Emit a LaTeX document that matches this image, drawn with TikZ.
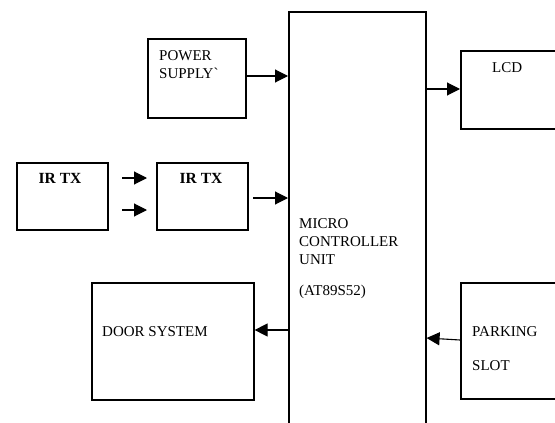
\documentclass[tikz,border=0pt]{standalone}
\usepackage{fontspec}
\setmainfont{Liberation Serif}
\newfontfamily\rawserif{Liberation Serif}
\usetikzlibrary{arrows.meta}
\begin{document}
\begin{tikzpicture}[x=1pt,y=-1pt,
  blk/.style={draw,line width=1.6pt,rectangle,inner sep=0pt,anchor=north west},
  con/.style={line width=1.1pt,-{Triangle[length=13pt,width=13pt]}},
  lbl/.style={anchor=base west,inner sep=0pt,font=\fontsize{15}{17}\selectfont},
  lblb/.style={anchor=base,inner sep=0pt,font=\fontsize{15.5}{17}\bfseries\selectfont}]
\useasboundingbox (0,0) rectangle (555,423);
\clip (0,0) rectangle (555,423);
% boxes
\node[blk,minimum width=137pt,minimum height=440pt] (mcu) at (288,11) {};
\node[blk,minimum width=98pt,minimum height=79pt] (ps) at (147,38) {};
\node[blk,minimum width=120pt,minimum height=78pt] (lcd) at (460,50) {};
\node[blk,minimum width=91pt,minimum height=67pt] (ir1) at (16,162) {};
\node[blk,minimum width=91pt,minimum height=67pt] (ir2) at (156,162) {};
\node[blk,minimum width=162pt,minimum height=117pt] (door) at (91,282) {};
\node[blk,minimum width=120pt,minimum height=116pt] (park) at (460,282) {};
% labels
\node[lbl] (tps1) at (159,60) {POWER};
\node[lbl] (tps2) at (159,78) {SUPPLY{\rawserif\symbol{"60}}};
\node[lbl] (tlcd) at (492,72) {LCD};
\node[lblb] (tir1) at (60,183) {IR TX};
\node[lblb] (tir2) at (201,183) {IR TX};
\node[lbl] (tm1) at (299,228) {MICRO};
\node[lbl] (tm2) at (299,246) {CONTROLLER};
\node[lbl] (tm3) at (299,264) {UNIT};
\node[lbl] (tm4) at (299,295) {(AT89S52)};
\node[lbl] (tdoor) at (102,336) {DOOR SYSTEM};
\node[lbl] (tp1) at (472,336) {PARKING};
\node[lbl] (tp2) at (472,370) {SLOT};
% connectors
\coordinate (a1s) at (122,178); \coordinate (a1e) at (147,178);
\coordinate (a2s) at (122,210); \coordinate (a2e) at (147,210);
\draw[con] (a1s) -- (a1e);
\draw[con] (a2s) -- (a2e);
\draw[con] (ps.east |- 0,76) -- (mcu.west |- 0,76);
\draw[con] (mcu.east |- 0,89) -- (lcd.west |- 0,89);
\draw[con] (253,198) -- (mcu.west |- 0,198);
\draw[con] (mcu.west |- 0,330) -- (door.east |- 0,330);
\draw[con] (park.west |- 0,340) -- (mcu.east |- 0,338);
\end{tikzpicture}
\end{document}
